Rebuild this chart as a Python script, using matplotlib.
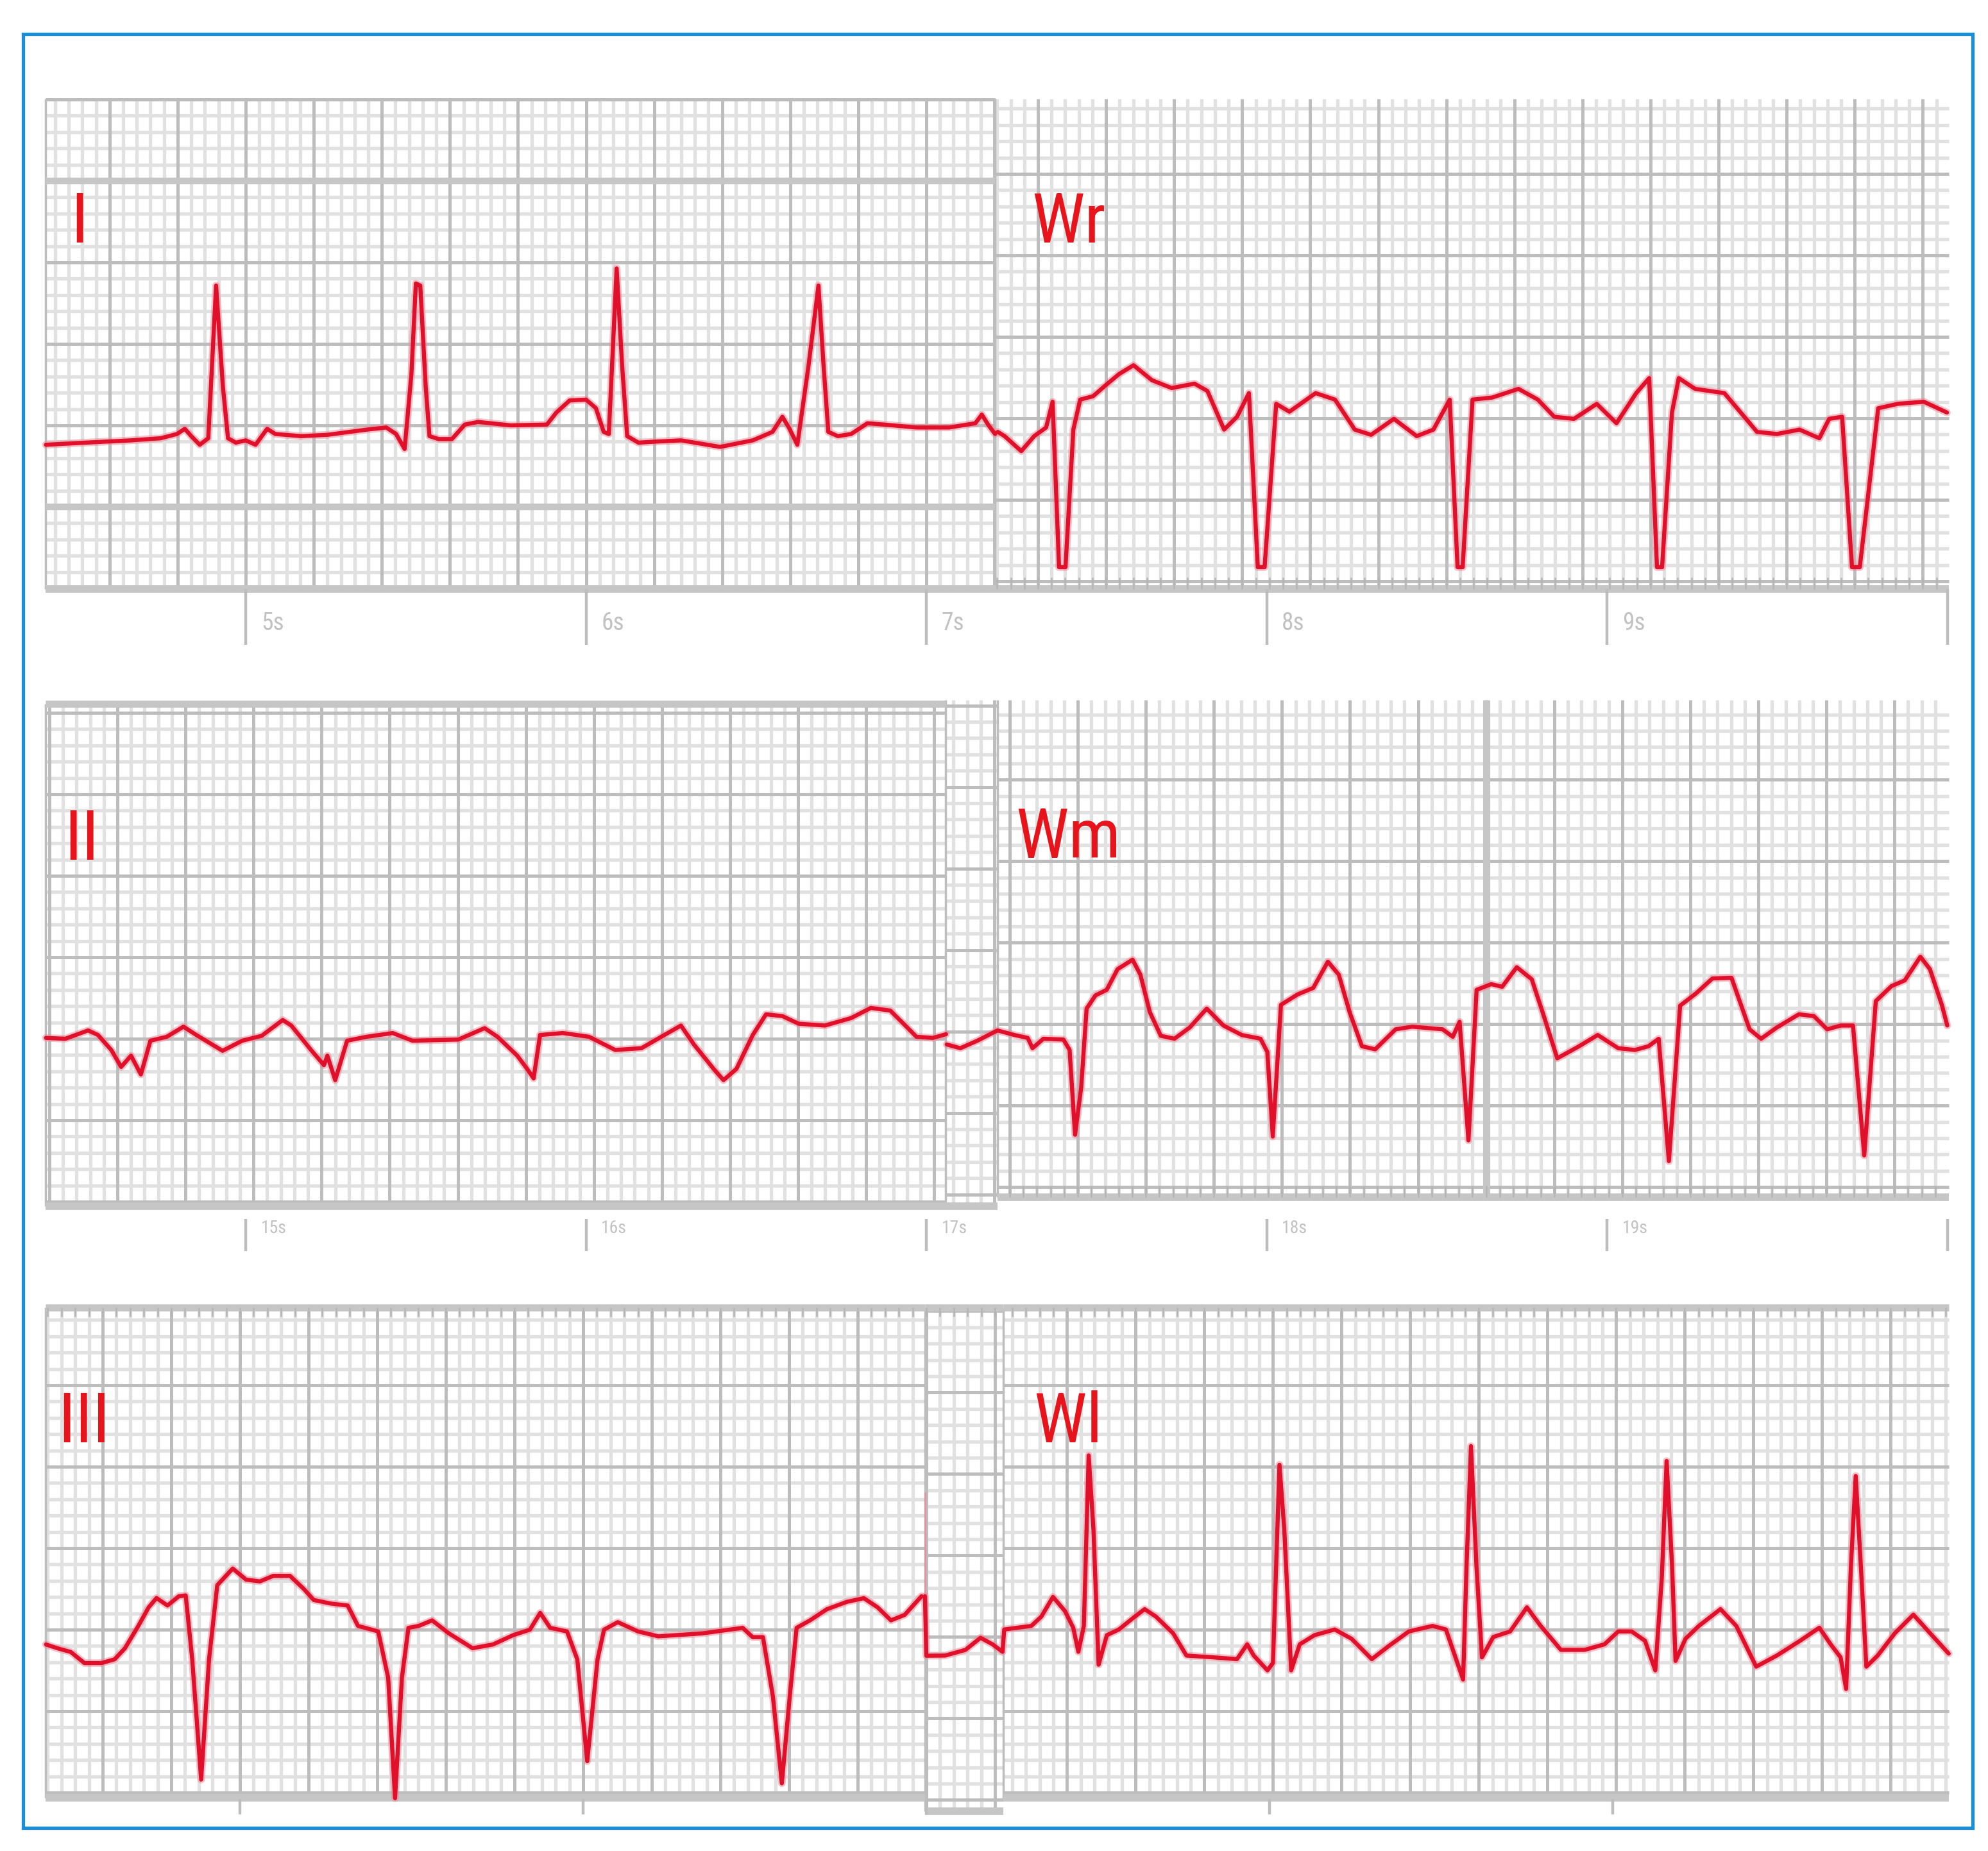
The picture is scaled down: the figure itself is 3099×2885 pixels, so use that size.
import numpy as np
import matplotlib
matplotlib.use("Agg")
import matplotlib.pyplot as plt
from matplotlib.patches import Rectangle
from matplotlib import font_manager as fm

# ---------------- data (time in s, amplitude in mV) ----------------
I_t = [4.413, 4.529, 4.663, 4.75, 4.798, 4.821, 4.84, 4.865, 4.89, 4.913, 4.933, 4.948, 4.971, 5.0,
       5.029, 5.063, 5.087, 5.163, 5.24, 5.356, 5.413, 5.442, 5.467, 5.487, 5.5, 5.513, 5.529, 5.54,
       5.567, 5.606, 5.644, 5.683, 5.779, 5.885, 5.913, 5.952, 6.0, 6.029, 6.052, 6.067, 6.09, 6.106,
       6.121, 6.154, 6.202, 6.279, 6.394, 6.49, 6.548, 6.577, 6.596, 6.621, 6.654, 6.683, 6.698, 6.712,
       6.74, 6.779, 6.827, 6.875, 6.971, 7.067, 7.144, 7.163, 7.183, 7.202]
I_mv = [-0.119, -0.106, -0.092, -0.079, -0.053, -0.021, -0.066, -0.119, -0.079, 0.858, 0.237, -0.079,
        -0.106, -0.092, -0.119, -0.021, -0.053, -0.066, -0.058, -0.026, -0.013, -0.053, -0.145, 0.317,
        0.871, 0.858, 0.237, -0.066, -0.084, -0.084, 0.005, 0.021, 0.0, 0.005, 0.079, 0.153, 0.158,
        0.106, -0.040, -0.053, 0.963, 0.369, -0.066, -0.106, -0.100, -0.092, -0.132, -0.092, -0.040,
        0.053, -0.013, -0.119, 0.369, 0.858, 0.369, -0.040, -0.066, -0.053, 0.013, 0.005, -0.013,
        -0.013, 0.013, 0.066, 0.0, -0.053]

Wr_t = [7.21, 7.23, 7.279, 7.317, 7.352, 7.371, 7.39, 7.409, 7.432, 7.452, 7.49, 7.529, 7.567, 7.609,
        7.663, 7.721, 7.788, 7.826, 7.875, 7.913, 7.948, 7.974, 7.994, 8.028, 8.067, 8.144, 8.201,
        8.259, 8.307, 8.374, 8.441, 8.49, 8.538, 8.561, 8.576, 8.605, 8.663, 8.74, 8.797, 8.845, 8.903,
        8.97, 9.028, 9.086, 9.124, 9.147, 9.162, 9.191, 9.211, 9.259, 9.345, 9.393, 9.441, 9.499,
        9.566, 9.624, 9.653, 9.691, 9.72, 9.743, 9.797, 9.854, 9.931, 9.999]
Wr_mv = [-0.040, -0.066, -0.158, -0.066, -0.013, 0.145, -0.870, -0.870, -0.026, 0.158, 0.179, 0.250,
         0.316, 0.369, 0.277, 0.229, 0.256, 0.211, -0.026, 0.053, 0.198, -0.870, -0.870, 0.132, 0.084,
         0.198, 0.158, -0.026, -0.058, 0.040, -0.066, -0.026, 0.158, -0.870, -0.870, 0.158, 0.171,
         0.224, 0.158, 0.053, 0.040, 0.132, 0.013, 0.198, 0.290, -0.870, -0.870, 0.079, 0.290, 0.224,
         0.198, 0.079, -0.040, -0.053, -0.026, -0.079, 0.040, 0.053, -0.870, -0.870, 0.105, 0.132,
         0.145, 0.079]

II_t = [14.413, 14.47, 14.537, 14.566, 14.605, 14.634, 14.663, 14.692, 14.72, 14.768, 14.817, 14.855,
        14.932, 14.99, 15.047, 15.109, 15.134, 15.192, 15.23, 15.24, 15.263, 15.298, 15.355, 15.432,
        15.49, 15.625, 15.702, 15.74, 15.798, 15.827, 15.846, 15.865, 15.932, 16.009, 16.086, 16.163,
        16.221, 16.279, 16.317, 16.375, 16.404, 16.442, 16.49, 16.529, 16.577, 16.625, 16.702, 16.779,
        16.837, 16.894, 16.933, 16.971, 17.019, 17.058]
II_mv = [0.005, 0.0, 0.051, 0.023, -0.069, -0.173, -0.104, -0.219, -0.012, 0.012, 0.074, 0.023, -0.074,
         -0.012, 0.018, 0.115, 0.081, -0.069, -0.162, -0.104, -0.254, -0.012, 0.012, 0.035, -0.012,
         -0.005, 0.065, 0.012, -0.104, -0.185, -0.243, 0.023, 0.035, 0.012, -0.069, -0.058, 0.012,
         0.081, -0.035, -0.185, -0.254, -0.185, 0.023, 0.150, 0.139, 0.092, 0.081, 0.127, 0.189, 0.173,
         0.092, 0.012, 0.005, 0.028]

Wm_t = [17.06, 17.1, 17.15, 17.209, 17.259, 17.298, 17.312, 17.344, 17.403, 17.421, 17.437, 17.455,
        17.471, 17.497, 17.53, 17.562, 17.606, 17.629, 17.657, 17.689, 17.729, 17.774, 17.824, 17.873,
        17.927, 17.982, 18.002, 18.018, 18.042, 18.091, 18.137, 18.18, 18.212, 18.244, 18.28, 18.319,
        18.379, 18.428, 18.517, 18.547, 18.567, 18.593, 18.617, 18.66, 18.692, 18.735, 18.779, 18.811,
        18.854, 18.914, 18.973, 19.033, 19.082, 19.122, 19.152, 19.182, 19.215, 19.261, 19.31, 19.366,
        19.419, 19.453, 19.499, 19.564, 19.608, 19.647, 19.687, 19.723, 19.756, 19.79, 19.836, 19.875,
        19.921, 19.949, 19.984, 20.0]
Wm_mv = [-0.035, -0.058, -0.012, 0.051, 0.023, 0.005, -0.058, 0.0, -0.005, -0.069, -0.589, -0.300,
         0.185, 0.266, 0.300, 0.427, 0.485, 0.393, 0.162, 0.018, 0.0, 0.069, 0.185, 0.081, 0.023, 0.0,
         -0.081, -0.600, 0.208, 0.272, 0.312, 0.473, 0.393, 0.162, -0.046, -0.065, 0.058, 0.074, 0.058,
         0.012, 0.104, -0.624, 0.300, 0.335, 0.319, 0.439, 0.365, 0.162, -0.120, -0.051, 0.023, -0.058,
         -0.069, -0.046, 0.0, -0.751, 0.203, 0.277, 0.370, 0.374, 0.058, 0.0, 0.069, 0.150, 0.139,
         0.058, 0.081, 0.081, -0.716, 0.231, 0.323, 0.358, 0.503, 0.427, 0.208, 0.081]

III_t = [24.435, 24.468, 24.507, 24.547, 24.596, 24.635, 24.665, 24.704, 24.734, 24.757, 24.789, 24.822,
         24.842, 24.861, 24.887, 24.91, 24.934, 24.979, 25.018, 25.058, 25.097, 25.146, 25.186, 25.215,
         25.265, 25.314, 25.344, 25.403, 25.432, 25.452, 25.472, 25.491, 25.521, 25.56, 25.609, 25.678,
         25.737, 25.796, 25.845, 25.875, 25.904, 25.953, 25.983, 26.012, 26.042, 26.061, 26.101, 26.16,
         26.219, 26.347, 26.465, 26.494, 26.524, 26.553, 26.579, 26.602, 26.622, 26.661, 26.71, 26.769,
         26.818, 26.858, 26.897, 26.937, 26.986]
III_mv = [-0.091, -0.114, -0.137, -0.205, -0.205, -0.182, -0.114, 0.023, 0.137, 0.194, 0.148, 0.205,
          0.210, -0.182, -0.920, -0.182, 0.273, 0.375, 0.307, 0.296, 0.330, 0.330, 0.250, 0.182, 0.160,
          0.148, 0.023, -0.011, -0.295, -1.034, -0.295, 0.011, 0.023, 0.057, -0.023, -0.114, -0.091,
          -0.034, 0.0, 0.103, 0.011, -0.011, -0.182, -0.807, -0.182, 0.0, 0.046, -0.011, -0.041, -0.023,
          0.011, -0.046, -0.046, -0.410, -0.943, -0.410, 0.011, 0.057, 0.125, 0.171, 0.193, 0.137,
          0.057, 0.091, 0.205]

# short faint calibration stroke at the III / Wl junction
JOIN_t = [26.996, 26.996]
JOIN_mv = [0.205, 0.84]

WI_t = [26.996, 27.0, 27.055, 27.114, 27.158, 27.193, 27.222, 27.227, 27.306, 27.335, 27.369, 27.404,
        27.428, 27.443, 27.459, 27.473, 27.487, 27.502, 27.526, 27.561, 27.601, 27.636, 27.669, 27.719,
        27.758, 27.837, 27.905, 27.935, 27.954, 27.994, 28.01, 28.029, 28.043, 28.063, 28.088, 28.131,
        28.19, 28.239, 28.298, 28.347, 28.406, 28.475, 28.514, 28.54, 28.564, 28.574, 28.587, 28.603,
        28.619, 28.652, 28.701, 28.75, 28.79, 28.849, 28.918, 28.976, 29.016, 29.055, 29.094, 29.124,
        29.143, 29.157, 29.173, 29.183, 29.212, 29.251, 29.314, 29.36, 29.418, 29.478, 29.546, 29.602,
        29.635, 29.664, 29.68, 29.694, 29.708, 29.723, 29.739, 29.772, 29.822, 29.876, 29.92, 29.979]
WI_mv = [0.205, -0.160, -0.159, -0.124, -0.050, -0.090, -0.136, 0.001, 0.023, 0.080, 0.201, 0.114,
         0.012, -0.136, 0.023, 1.069, 0.614, -0.215, -0.034, 0.001, 0.069, 0.126, 0.080, -0.022,
         -0.159, -0.170, -0.181, -0.090, -0.159, -0.250, -0.204, 1.012, 0.614, -0.250, -0.090, -0.034,
         0.001, -0.056, -0.181, -0.101, -0.011, 0.023, 0.001, -0.159, -0.306, 0.387, 1.126, 0.387,
         -0.170, -0.045, -0.011, 0.137, 0.023, -0.124, -0.124, -0.090, -0.011, -0.011, -0.068, -0.250,
         0.318, 1.035, 0.387, -0.192, -0.056, 0.023, 0.126, 0.023, -0.227, -0.159, -0.068, 0.012,
         -0.090, -0.170, -0.364, 0.387, 0.943, 0.387, -0.227, -0.159, -0.022, 0.092, -0.011, -0.147]

LEAD_NAMES = ["I", "Wr", "II", "Wm", "III", "Wl"]
ROW1_TICKS = [5, 6, 7, 8, 9, 10]
ROW1_LABELS = ["5s", "6s", "7s", "8s", "9s", ""]
ROW2_TICKS = [15, 16, 17, 18, 19, 20]
ROW2_LABELS = ["15s", "16s", "17s", "18s", "19s", ""]
ROW3_TICKS = [25, 26, 27, 28, 29]

# ---------------- layout / style ----------------
W, H = 3099, 2885
PPMV = 254.0
ROWS = [dict(xt0=383, t0=5.0, pps=530.5, yref=663),
        dict(xt0=383, t0=15.0, pps=530.5, yref=1619),
        dict(xt0=374, t0=25.0, pps=535.0, yref=2540)]

MINOR_C, MAJOR_C, BAND_C = "#e1e1e1", "#bdbdbd", "#c6c6c6"
TRACE_C, HALO_C, LABEL_C = "#e0102a", "#f28595", "#e8141c"
TICK_C = "#bdbdbd"


def pick_condensed():
    pref = ["Liberation Sans Narrow", "Arial Narrow", "Roboto Condensed", "Noto Sans",
            "Noto Sans Condensed", "Open Sans", "Open Sans Condensed", "DejaVu Sans"]
    for name in pref:
        for f in fm.fontManager.ttflist:
            if (f.name == name and f.stretch in ("condensed", "semi-condensed")
                    and f.style == "normal" and f.weight in (400, "normal", "regular", "book")):
                return fm.FontProperties(fname=f.fname)
    return fm.FontProperties(family=["Liberation Sans", "DejaVu Sans"])


FONT_PROP = pick_condensed()

fig = plt.figure(figsize=(W / 100, H / 100), dpi=100)
fig.patch.set_facecolor("white")

axes = []
for r in ROWS:
    ax = fig.add_axes([0, 0, 1, 1])
    tof = lambda x, r=r: r["t0"] + (x - r["xt0"]) / r["pps"]
    vof = lambda y, r=r: (r["yref"] - y) / PPMV
    ax.set_xlim(tof(0), tof(W))
    ax.set_ylim(vof(H), vof(0))
    ax.axis("off")
    ax.set_facecolor("none")
    r["tof"], r["vof"] = tof, vof
    axes.append(ax)

# panels: row, x0, x1, y0, y1 (pixels), grid phase (s, mV)
PANELS = [
    (0, 71, 1551, 154, 918, 0.000, 0.000),
    (0, 1551, 3038, 154, 918, 0.128, 0.043),
    (1, 71, 1474, 1097, 1880, 0.023, 0.000),
    (1, 1474, 1555, 1091, 1880, 0.000, 0.045),
    (1, 1555, 3038, 1091, 1866, 0.045, 0.090),
    (2, 71, 1442, 2038, 2802, 0.000, 0.000),
    (2, 1442, 1564, 2038, 2823, 0.000, 0.455),
    (2, 1564, 3038, 2038, 2802, 0.010, 0.000),
]


def grid_pos(a, b, phase, step):
    k0 = int(np.ceil((a - phase) / step - 1e-6))
    k1 = int(np.floor((b - phase) / step + 1e-6))
    ks = np.arange(k0, k1 + 1)
    return phase + ks * step, ks


for (ri, x0, x1, y0, y1, pt, pv) in PANELS:
    r, ax = ROWS[ri], axes[ri]
    ta, tb = r["tof"](x0), r["tof"](x1)
    va, vb = r["vof"](y1), r["vof"](y0)
    ts, kt = grid_pos(ta, tb, pt, 0.04)
    vs, kv = grid_pos(va, vb, pv, 0.1)
    ax.vlines(ts[kt % 5 != 0], va, vb, colors=MINOR_C, lw=3.8, zorder=1)
    ax.hlines(vs[kv % 5 != 0], ta, tb, colors=MINOR_C, lw=3.8, zorder=1)
    ax.vlines(ts[kt % 5 == 0], va, vb, colors=MAJOR_C, lw=3.6, zorder=2)
    ax.hlines(vs[kv % 5 == 0], ta, tb, colors=MAJOR_C, lw=3.6, zorder=2)
    ax.hlines([va], ta, tb, colors=BAND_C, lw=8.5, zorder=3)
    ax.vlines([ta], va, vb, colors=MAJOR_C, lw=2.5, zorder=2)
    if ri == 2 or (ri == 1 and x0 == 71):
        ax.hlines([vb], ta, tb, colors=BAND_C, lw=8.0, zorder=3)
    if ri == 0 and x0 == 71:
        ax.hlines([1.5, -0.5], ta, tb, colors=BAND_C, lw=7.5, zorder=3)
    if ri == 1 and x0 == 1555:
        ax.vlines([18.646], va, vb, colors=BAND_C, lw=8.0, zorder=3)
    if (ri in (0, 1)) and x0 > 1500 and x1 > 2000:
        ax.vlines(ts, va, va + 18 / PPMV, colors="#b5b5b5", lw=1.8, zorder=3)
    if ri == 2:
        ax.vlines(ts, vb - 14 / PPMV, vb, colors="#b5b5b5", lw=1.8, zorder=3)

# traces
axes[2].plot(JOIN_t, JOIN_mv, color=HALO_C, lw=1.8, alpha=0.8, zorder=6)
TRACES = [(0, I_t, I_mv), (0, Wr_t, Wr_mv), (1, II_t, II_mv), (1, Wm_t, Wm_mv),
          (2, III_t, III_mv), (2, WI_t, WI_mv)]
for ri, t, mv in TRACES:
    ax = axes[ri]
    ax.plot(t, mv, color=HALO_C, lw=8.5, alpha=0.5, solid_joinstyle="round",
            solid_capstyle="round", zorder=6)
    ax.plot(t, mv, color=TRACE_C, lw=4.6, solid_joinstyle="round",
            solid_capstyle="round", zorder=7)


def time_axis(ri, ticks, labels, ytop, ybot, fs, ylab):
    r, ax = ROWS[ri], axes[ri]
    ax.vlines(ticks, r["vof"](ybot), r["vof"](ytop), colors=TICK_C, lw=3.2, zorder=3)
    for tk, lab in zip(ticks, labels):
        if lab:
            ax.text(tk + 0.045, r["vof"](ylab), lab, fontsize=fs, color="#c2c2c2",
                    ha="left", va="center", fontproperties=FONT_PROP, zorder=3)


time_axis(0, ROW1_TICKS, ROW1_LABELS, 918, 1005, 27, 972)
time_axis(1, ROW2_TICKS, ROW2_LABELS, 1900, 1950, 20, 1915)
time_axis(2, ROW3_TICKS, [""] * len(ROW3_TICKS), 2804, 2828, 20, 2815)

LABEL_POS = [(110, 378), (1608, 378), (100, 1340), (1583, 1337), (90, 2248), (1611, 2248)]
for name, (lx, ly) in zip(LEAD_NAMES, LABEL_POS):
    fp = FONT_PROP.copy()
    fp.set_size(78)
    fig.text(lx / W, 1 - ly / H, name, color=LABEL_C, ha="left", va="baseline",
             fontproperties=fp, zorder=10)

fig.add_artist(Rectangle((36 / W, 1 - 2849 / H), (3075 - 36) / W, (2849 - 53) / H,
                         transform=fig.transFigure, fill=False, ec="#1a8fd8", lw=3.8))

fig.savefig("out.png", dpi=100, facecolor="white")
